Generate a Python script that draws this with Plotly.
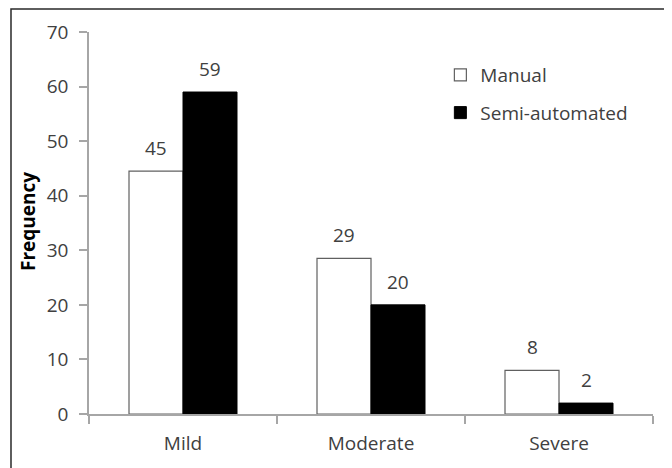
import plotly.graph_objects as go

categories = ["Mild", "Moderate", "Severe"]
manual_values = [44.5, 28.5, 8]
semi_values = [59, 20, 2]
manual_labels = ["45", "29", "8"]
semi_labels = ["59", "20", "2"]
y_ticks = [0, 10, 20, 30, 40, 50, 60, 70]

FONT = "Open Sans"
TXT = "#404040"
AX = "#a6a6a6"
FS = 19

fig = go.Figure()
fig.add_trace(go.Bar(
    x=categories, y=manual_values, name="Manual",
    marker=dict(color="white", line=dict(color="#606060", width=1.2)),
    legendgroup="a",
))
fig.add_trace(go.Bar(
    x=categories, y=semi_values, name="Semi-automated",
    marker=dict(color="black", line=dict(color="black", width=1)),
    legendgroup="b",
))

annotations = []
for c, v, t in zip(categories, manual_values, manual_labels):
    annotations.append(dict(x=c, y=v, xref="x", yref="y", text=t, showarrow=False,
                            xshift=-27, yshift=8, yanchor="bottom",
                            font=dict(family=FONT, size=FS, color=TXT)))
for c, v, t in zip(categories, semi_values, semi_labels):
    annotations.append(dict(x=c, y=v, xref="x", yref="y", text=t, showarrow=False,
                            xshift=27, yshift=8, yanchor="bottom",
                            font=dict(family=FONT, size=FS, color=TXT)))
annotations.append(dict(x=-0.108, y=0.503, xref="paper", yref="paper", text="<b>Frequency</b>",
                        textangle=-90, showarrow=False, xanchor="center", yanchor="middle",
                        font=dict(family=FONT, size=19, color="black")))

fig.update_layout(
    width=664, height=460,
    margin=dict(l=81, r=19, t=24, b=54),
    paper_bgcolor="white", plot_bgcolor="white",
    barmode="group", bargap=0.4255, bargroupgap=0,
    font=dict(family=FONT, size=FS, color=TXT),
    showlegend=True,
    legend=dict(x=0.623, y=0.937, xanchor="left", yanchor="top",
                bgcolor="rgba(0,0,0,0)", font=dict(family=FONT, size=FS, color=TXT),
                traceorder="grouped", tracegroupgap=10, itemwidth=30),
    annotations=annotations,
    shapes=[dict(type="rect", xref="paper", yref="paper",
                 x0=-0.1383, x1=1.0284, y0=-0.3, y1=1.0602,
                 line=dict(color="#2a2a2a", width=1.5))],
)
fig.update_yaxes(range=[0, 70], tickvals=y_ticks, showgrid=False, zeroline=False,
                 showline=True, linecolor=AX, linewidth=1.5,
                 ticks="outside", ticklen=8, tickcolor=AX, tickwidth=1.5,
                 ticklabelstandoff=7, tickfont=dict(family=FONT, size=FS, color=TXT))
fig.update_xaxes(showgrid=False, showline=True, linecolor=AX, linewidth=1.5,
                 ticks="outside", ticklen=8, tickcolor=AX, tickwidth=1.5,
                 tickson="boundaries", ticklabelstandoff=11,
                 tickfont=dict(family=FONT, size=FS, color=TXT))

fig.write_html("out.html")
